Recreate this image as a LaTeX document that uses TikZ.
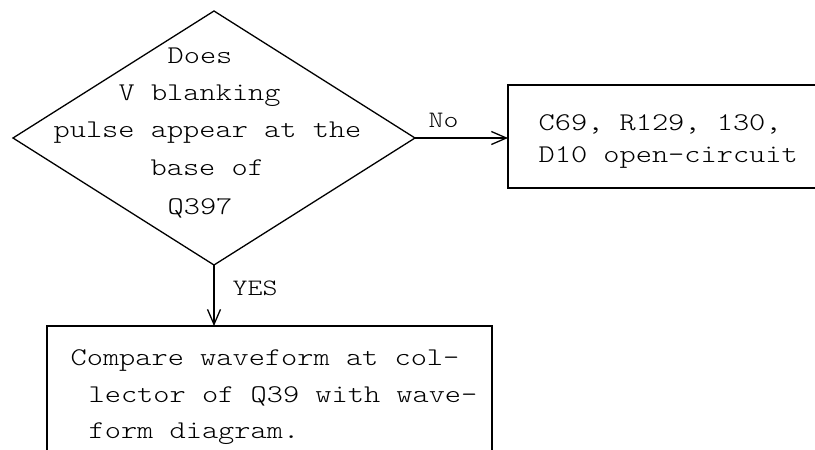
\documentclass[tikz,border=0pt]{standalone}
\usepackage{fontspec}
\setmonofont[FakeStretch=1.21]{Latin Modern Mono Light}
\usetikzlibrary{shapes.geometric,arrows.meta}
\begin{document}
\begin{tikzpicture}[x=1pt,y=-1pt,
  line width=1.3pt,
  txt/.style={font=\ttfamily\fontsize{25.5}{30}\selectfont, anchor=base west, inner sep=0},
  lbl/.style={font=\ttfamily\fontsize{23.5}{28}\selectfont, anchor=base west, inner sep=0},
  arr/.style={-{Straight Barb[length=15pt,width=13pt]}},
  box/.style={draw, rectangle, inner sep=0, outer sep=0}]
\useasboundingbox (0,0) rectangle (815,450);
\clip (0,0) rectangle (815,450);
\node[draw, diamond, minimum width=402pt, minimum height=254pt, inner sep=0, outer sep=0] (q) at (214,138) {};
\node[box, anchor=north west, minimum width=330pt, minimum height=103pt] (no) at (508,85) {};
\node[box, anchor=north west, minimum width=445pt, minimum height=170pt] (yes) at (47,326) {};
\draw[arr] (q.east) -- (q.east -| no.west);
\draw[arr] (q.south) -- (q.south |- yes.north);
\node[txt] (q1) at (167,63) {Does};
\node[txt] (q2) at (118,100) {V blanking};
\node[txt] (q3) at (53,137) {pulse appear at the};
\node[txt] (q4) at (150,175) {base of};
\node[txt] (q5) at (167,214) {Q397};
\node[lbl] (lno) at (428,127) {No};
\node[lbl] (lyes) at (232,295) {YES};
\node[txt] (n1) at (538,130) {C69, R129, 130,};
\node[txt] (n2) at (538,162) {D10 open-circuit};
\node[txt] (y1) at (70,365) {Compare waveform at col-};
\node[txt] (y2) at (88,402) {lector of Q39 with wave-};
\node[txt] (y3) at (88,438) {form diagram.};
\end{tikzpicture}
\end{document}
